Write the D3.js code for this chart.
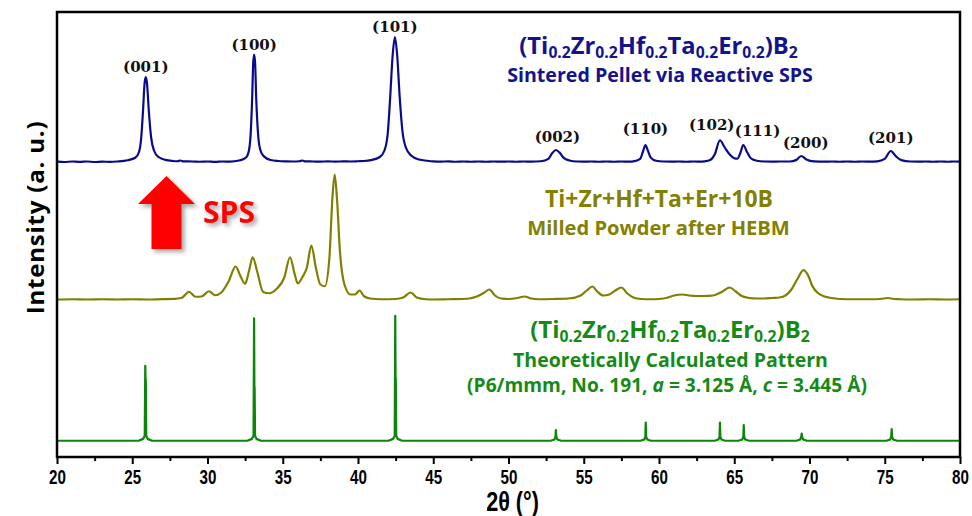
<!DOCTYPE html>
<html><head><meta charset="utf-8">
<script src="https://cdn.jsdelivr.net/npm/d3@7"></script>
<style>body{margin:0;background:#fff}svg{display:block}</style>
</head><body>
<svg id="c" width="972" height="516"></svg>
<script>
// ---------------- DATA ----------------
const xTicks = [20,25,30,35,40,45,50,55,60,65,70,75,80];
const xMinorTicks = [22.5,27.5,32.5,37.5,42.5,47.5,52.5,57.5,62.5,67.5,72.5,77.5];
const seriesNames = ["Sintered Pellet via Reactive SPS","Milled Powder after HEBM","Theoretically Calculated Pattern"];
const seriesOffsets = [236,126,13];   // vertical stacking offsets (a.u.)

// [2theta, relative intensity]
const pelletData = [
[20,0.3],[20.5,0],[21,0.4],[21.5,0.1],[22,0.4],[22.5,0],[23,0.3],[23.5,0.1],[24,0.4],[24.7,1.4],
[25.2,3.4],[25.45,8],[25.6,20],[25.72,42],[25.82,63],[25.9,68],[25.98,63],[26.1,41],[26.25,20],[26.45,9],[26.75,4],[27.2,1.7],
[27.7,0.8],[28.0,0.6],[28.2,1.2],[28.4,0.5],[29,0.4],[29.5,0.2],[30,0.4],[30.5,0.1],[31,0.4],[31.5,0.3],[32.1,1.2],
[32.55,3.5],[32.75,9],[32.88,25],[32.97,52],[33.04,80],[33.1,86],[33.16,80],[33.24,50],[33.35,24],[33.5,10],[33.75,4.5],[34.2,1.6],
[34.7,0.8],[35.2,0.5],[35.7,0.4],[36.1,0.6],[36.3,1.2],[36.5,0.5],[37,0.4],[37.5,0.3],[38,0.5],[38.5,0.3],[39,0.5],[39.5,0.4],[40,0.6],[40.4,0.8],[40.85,1.5],
[41.45,4],[41.75,9],[41.97,22],[42.13,50],[42.3,85],[42.45,100],[42.6,86],[42.77,52],[42.95,25],[43.2,11],[43.55,5],[44.05,2],
[44.6,1],[45,0.5],[45.5,0.3],[46,0.5],[46.5,0.2],[47,0.4],[47.5,0.2],[48,0.4],[48.5,0.2],[49,0.4],[49.5,0.3],[50,0.4],[50.5,0.2],[51,0.4],[51.5,0.3],[52.15,0.6],
[52.65,2.5],[52.9,7],[53.15,9.6],[53.4,7.5],[53.65,3.5],[54.05,1.2],[54.55,0.4],[55,0.3],[55.5,0.4],[56,0.2],[56.5,0.4],[57,0.2],[57.5,0.4],[58,0.3],[58.3,0.5],
[58.75,2.5],[58.95,9],[59.1,13.6],[59.25,9.5],[59.45,3.5],[59.8,1],[60.3,0.4],[60.8,0.3],[61.3,0.4],[61.8,0.2],[62.3,0.4],[62.8,0.3],
[63.0,0.5],[63.4,1.6],[63.7,6],[64.05,17.4],[64.35,12],[64.7,6],[65.0,3],[65.2,2.6],[65.4,7],[65.6,13.6],[65.85,8],[66.1,3],[66.5,1],[67,0.4],[67.5,0.3],[68,0.4],[68.7,0.4],
[69.1,1.5],[69.45,4.8],[69.8,2],[70.3,0.5],[71,0.3],[71.5,0.4],[72,0.2],[72.5,0.4],[73,0.2],[73.5,0.4],[74,0.3],[74.5,0.5],
[75.0,2.5],[75.4,8.8],[75.75,4.5],[76.1,1.5],[76.7,0.4],[77.2,0.3],[77.7,0.4],[78.2,0.2],[78.7,0.4],[79.2,0.2],[79.6,0.4],[80,0.3]
];

const powderData = [
[20,0],[21,0.2],[22,0],[23,0.2],[24,0],[25,0.2],[26,0],[27,0.3],[27.8,0.5],[28.3,1.4],[28.77,6.2],[29.2,2.2],[29.6,2.4],[30.1,6.6],[30.5,3.4],[30.9,5.4],
[31.4,14.4],[31.87,26.4],[32.2,18.4],[32.5,12.6],[32.75,22.4],[33.0,33.8],[33.3,22.4],[33.7,6],[34.1,5],[34.6,8.6],[35.1,17.4],[35.48,33.8],[35.8,20],
[36.0,12.8],[36.3,17.8],[36.6,25.4],[36.9,43.2],[37.2,25.4],[37.5,12],[37.8,10.6],[38.1,33.4],[38.3,81.4],[38.45,100],[38.6,81.4],[38.8,38.4],[39.1,12],
[39.5,4],[39.8,4],[40.1,7.2],[40.4,2.6],[40.8,0.8],[41.5,0.2],[42.5,0.4],[43.0,1.6],[43.5,5.6],[43.9,1.6],[44.5,0.2],[45,0],[46,0.2],[47,0.4],[47.4,0.8],
[47.9,2.4],[48.4,5.6],[48.73,8],[49.1,3.2],[49.5,0.8],[50.0,0.4],[50.6,1.2],[51.06,2.4],[51.5,0.8],[52,0.2],[53,0.4],[54,0.8],[54.8,3.2],[55.2,7.2],
[55.57,10.4],[55.9,6.4],[56.3,3.2],[56.7,4],[57.1,7.2],[57.5,9.6],[57.9,4.8],[58.3,1.6],[58.8,0.4],[59.5,0.2],[60,0.4],[60.6,1.6],[61,3.2],[61.56,4],
[62,3.2],[62.5,2.8],[63,2.8],[63.6,3.2],[64.1,5.6],[64.7,9.6],[65.1,6.4],[65.5,2.8],[66,1.2],[66.5,0.8],[67,0.8],[67.5,1.2],[68,1.6],[68.4,3.2],[68.8,8],
[69.2,16.5],[69.6,23.5],[69.9,19.5],[70.2,10.5],[70.6,4.8],[71,2.4],[71.5,1.2],[72,0.4],[73,0.2],[74,0.2],[74.7,0.4],[75.2,1.2],[75.6,0.4],[76,0.2],
[77,0],[78,0.2],[79,0],[80,0.2]
];

const theoryData = [
[20,0],[25.42,0],[25.72,1.5],[25.83,4],[25.865,60],[25.885,49],[25.9,49],[25.93,4],[26.02,1.5],[26.32,0],
[32.65,0],[32.95,1.5],[33.06,4],[33.095,98],[33.115,43],[33.13,43],[33.16,4],[33.25,1.5],[33.55,0],
[42.03,0],[42.33,1.5],[42.44,4],[42.475,100],[42.495,50],[42.51,50],[42.54,4],[42.63,1.5],[42.93,0],
[52.8,0],[53.05,1],[53.12,3],[53.15,8.6],[53.18,3],[53.25,1],[53.5,0],
[58.77,0],[59.02,1],[59.09,3],[59.12,14.6],[59.15,3],[59.22,1],[59.47,0],
[63.7,0],[63.95,1],[64.02,3],[64.05,14.6],[64.08,3],[64.15,1],[64.4,0],
[65.28,0],[65.53,1],[65.6,3],[65.63,12.6],[65.66,3],[65.73,1],[65.98,0],
[69.13,0],[69.38,1],[69.45,3],[69.48,5.8],[69.51,3],[69.58,1],[69.83,0],
[75.11,0],[75.36,1],[75.43,3],[75.46,9.4],[75.49,3],[75.56,1],[75.81,0],[80,0]
];

const hklLabels = ["(001)","(100)","(101)","(002)","(110)","(102)","(111)","(200)","(201)"];
const hklPeaks  = [25.9,33.1,42.45,53.15,59.1,64.05,65.6,69.45,75.4];

// ---------------- LAYOUT ----------------
const plot = {left:57, right:960, top:12, bottom:457};
const svg = d3.select("#c");
const x = d3.scaleLinear().domain([20,80]).range([plot.left, plot.right]);
const y = d3.scaleLinear().domain([0,356]).range([plot.bottom, plot.top]);

const defs = svg.append("defs");
defs.append("clipPath").attr("id","clip").append("rect")
  .attr("x",plot.left).attr("y",plot.top).attr("width",plot.right-plot.left).attr("height",plot.bottom-plot.top);
const sh = defs.append("filter").attr("id","shadow").attr("x","-30%").attr("y","-30%").attr("width","160%").attr("height","160%");
sh.append("feDropShadow").attr("dx",3).attr("dy",3).attr("stdDeviation",2).attr("flood-color","#000").attr("flood-opacity",0.35);

const lineColors = ["#0a0a8c","#808000","#0b860b"];
const allData = [pelletData, powderData, theoryData];
const curves = [d3.curveMonotoneX, d3.curveMonotoneX, d3.curveLinear];

const gLines = svg.append("g").attr("clip-path","url(#clip)");
allData.forEach((data,i)=>{
  const line = d3.line().x(d=>x(d[0])).y(d=>y(d[1]+seriesOffsets[i])).curve(curves[i]);
  gLines.append("path").datum(data).attr("d",line)
    .attr("fill","none").attr("stroke",lineColors[i]).attr("stroke-width",2.2).attr("stroke-linejoin","round");
});

// Frame
svg.append("rect").attr("x",plot.left).attr("y",plot.top).attr("width",plot.right-plot.left).attr("height",plot.bottom-plot.top)
  .attr("fill","none").attr("stroke","#000").attr("stroke-width",2.5);

// X axis
const tickFont = "'Liberation Sans','Arial',sans-serif";
const ax = svg.append("g").attr("transform",`translate(0,${plot.bottom})`)
  .call(d3.axisBottom(x).tickValues(xTicks).tickSize(7).tickSizeOuter(0).tickFormat(d3.format("d")));
ax.select(".domain").remove();
ax.selectAll(".tick line").attr("stroke","#000").attr("stroke-width",2);
ax.selectAll(".tick text").attr("font-family",tickFont).attr("font-weight","bold").attr("font-size",20.5)
  .attr("fill","#000").attr("dy",0).attr("y",27).attr("transform","scale(0.74,1)");
const axm = svg.append("g").attr("transform",`translate(0,${plot.bottom})`)
  .call(d3.axisBottom(x).tickValues(xMinorTicks).tickSize(4).tickFormat(""));
axm.select(".domain").remove();
axm.selectAll(".tick line").attr("stroke","#000").attr("stroke-width",2);

svg.append("text").attr("transform",`translate(${(plot.left+plot.right)/2+4},511) scale(0.8,1)`).attr("text-anchor","middle")
  .attr("font-family",tickFont).attr("font-weight","bold").attr("font-size",27).text("2θ (°)");

const annFont = "'Open Sans',Lato,sans-serif";

// fit helper: builds text with a given font size then rescales to target width
function fitted(build, size0, targetW){
  let t = build(size0);
  const w = t.node().getBBox().width;
  t.remove();
  return build(size0*targetW/w);
}

// y label
svg.append("text").attr("transform","translate(44,217.5) rotate(-90)").attr("text-anchor","middle")
  .attr("font-family",annFont).attr("font-weight","bold").attr("font-size",24).attr("letter-spacing",0.8)
  .attr("fill","#000").text("Intensity (a. u.)");

// hkl labels
const hklLayout = [[0,72],[0,50],[0,32],[0.1,142],[0,134],[-0.55,130],[0.95,136],[0.3,148],[0,143]];
svg.append("g").selectAll("text").data(hklLabels).join("text")
  .attr("x",(d,i)=>x(hklPeaks[i]+hklLayout[i][0])).attr("y",(d,i)=>hklLayout[i][1])
  .attr("text-anchor","middle").attr("font-family","'DejaVu Serif',serif").attr("font-weight","bold")
  .attr("font-size",15).attr("fill","#111").text(d=>d);

// formula helper
function formula(cx, by, color){
  return size => {
    const t = svg.append("text").attr("x",cx).attr("y",by).attr("text-anchor","middle")
      .attr("font-family",annFont).attr("font-weight","bold").attr("font-size",size).attr("fill",color);
    const parts = [["(Ti",0],["0.2",1],["Zr",0],["0.2",1],["Hf",0],["0.2",1],["Ta",0],["0.2",1],["Er",0],["0.2",1],[")B",0],["2",1]];
    const sub = size*0.16; let lvl = 0;
    parts.forEach(([s,isSub])=>{
      const ts = t.append("tspan").text(s);
      if(isSub){ ts.attr("font-size",size*0.66).attr("dy",sub-lvl); lvl=sub; }
      else { ts.attr("dy",-lvl); lvl=0; }
    });
    return t;
  };
}
function plain(cx, by, color, str){
  return size => svg.append("text").attr("x",cx).attr("y",by).attr("text-anchor","middle")
    .attr("font-family",annFont).attr("font-weight","bold").attr("font-size",size).attr("fill",color).text(str);
}
const blueT = "#14148a", oliveT = "#848000", greenT = "#158a15";
fitted(formula(658.5,54,blueT),20,279);
fitted(plain(660,82,blueT,seriesNames[0]),18,306);
fitted(plain(659,207,oliveT,"Ti+Zr+Hf+Ta+Er+10B"),20,228);
fitted(plain(658.5,235,oliveT,seriesNames[1]),20,263);
fitted(formula(670,338,greenT),20,280);
fitted(plain(670.5,366.5,greenT,seriesNames[2]),19,315);
fitted(size=>{
  const l3 = svg.append("text").attr("x",667).attr("y",392).attr("text-anchor","middle")
    .attr("font-family",annFont).attr("font-weight","bold").attr("font-size",size).attr("fill",greenT);
  l3.append("tspan").text("(P6/mmm, No. 191, ");
  l3.append("tspan").attr("font-style","italic").text("a");
  l3.append("tspan").text(" = 3.125 Å, ");
  l3.append("tspan").attr("font-style","italic").text("c");
  l3.append("tspan").text(" = 3.445 Å)");
  return l3;
},19,400);

// SPS arrow
const arrowPts = [[166.5,176],[195,204],[181.5,204],[181.5,249],[151.5,249],[151.5,204],[138,204]];
svg.append("polygon").attr("points",arrowPts.map(p=>p.join(",")).join(" "))
  .attr("fill","#ff0000").attr("filter","url(#shadow)");
fitted(s=>svg.append("text").attr("x",229).attr("y",223).attr("text-anchor","middle").attr("font-family",annFont).attr("font-weight","bold")
  .attr("font-size",s).attr("fill","#ff0000").attr("filter","url(#shadow)").text("SPS"),30,52);
</script>
</body></html>
